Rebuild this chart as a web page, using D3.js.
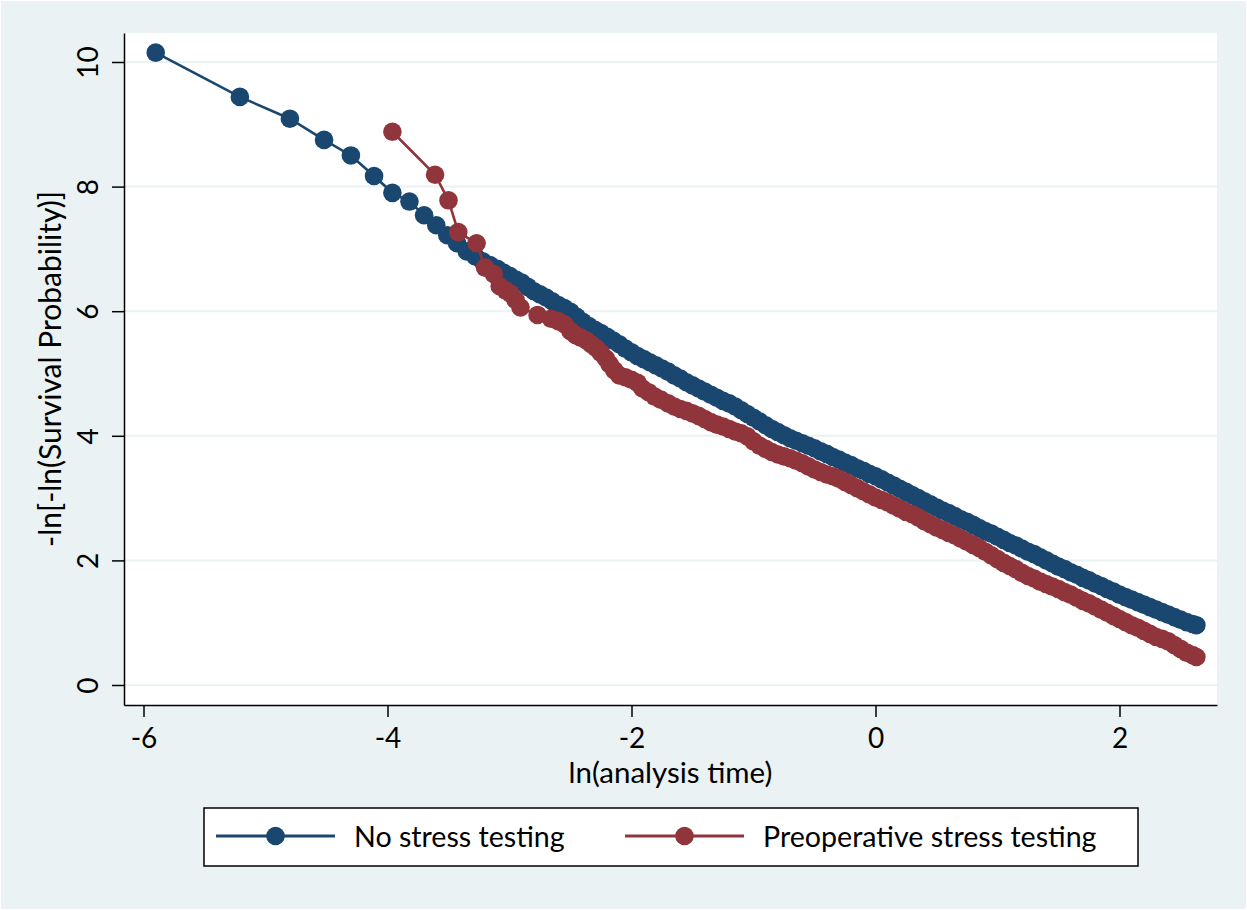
<!DOCTYPE html>
<html>
<head>
<meta charset="utf-8">
<script src="https://cdn.jsdelivr.net/npm/d3@7"></script>
<style>
  html, body { margin: 0; padding: 0; background: #eaf2f3; }
  svg { display: block; }
  text { font-family: Lato, "Open Sans", sans-serif; fill: #000; }
</style>
</head>
<body>
<svg id="chart" width="1247" height="910"></svg>
<script>
// ticks
var xTicks = [-6, -4, -2, 0, 2];
var yTicks = [0, 2, 4, 6, 8, 10];

var seriesNames = ["No stress testing", "Preoperative stress testing"];
var seriesColors = ["#1a476f", "#90353b"];

// no stress testing: ln(t), -ln[-ln(S)]
var noStressX = [-5.90, -5.21, -4.80, -4.52, -4.30, -4.11, -3.96, -3.82, -3.70, -3.60, -3.51, -3.43,
  -3.35, -3.28, -3.22, -3.16, -3.10, -3.05, -3.00, -2.95, -2.90, -2.85, -2.80, -2.75, -2.70, -2.65,
  -2.60, -2.55, -2.50, -2.45, -2.40, -2.35, -2.30, -2.25, -2.20, -2.15, -2.10, -2.05, -2.00, -1.95,
  -1.90, -1.85, -1.80, -1.75, -1.70, -1.65, -1.60, -1.55, -1.50, -1.45, -1.40, -1.35, -1.30, -1.25,
  -1.20, -1.15, -1.10, -1.05, -1.00, -0.95, -0.90, -0.85, -0.80, -0.75, -0.70, -0.65, -0.60, -0.55,
  -0.50, -0.45, -0.40, -0.35, -0.30, -0.25, -0.20, -0.15, -0.10, -0.05, 0.00, 0.05, 0.10, 0.15,
  0.20, 0.25, 0.30, 0.35, 0.40, 0.45, 0.50, 0.55, 0.60, 0.65, 0.70, 0.75, 0.80, 0.85, 0.90, 0.95,
  1.00, 1.05, 1.10, 1.15, 1.20, 1.25, 1.30, 1.35, 1.40, 1.45, 1.50, 1.55, 1.60, 1.65, 1.70, 1.75,
  1.80, 1.85, 1.90, 1.95, 2.00, 2.05, 2.10, 2.15, 2.20, 2.25, 2.30, 2.35, 2.40, 2.45, 2.50, 2.55,
  2.60, 2.63];
var noStressY = [10.15, 9.44, 9.09, 8.75, 8.50, 8.17, 7.90, 7.76, 7.54, 7.38, 7.22, 7.09,
  6.96, 6.88, 6.80, 6.74, 6.68, 6.62, 6.57, 6.51, 6.46, 6.39, 6.32, 6.27, 6.22, 6.16,
  6.10, 6.05, 5.99, 5.91, 5.83, 5.76, 5.70, 5.65, 5.59, 5.53, 5.47, 5.40, 5.34, 5.28,
  5.23, 5.18, 5.13, 5.08, 5.03, 4.97, 4.92, 4.86, 4.81, 4.76, 4.71, 4.66, 4.61, 4.56,
  4.52, 4.47, 4.41, 4.35, 4.29, 4.23, 4.17, 4.11, 4.06, 4.01, 3.96, 3.92, 3.88, 3.84,
  3.80, 3.75, 3.71, 3.66, 3.62, 3.57, 3.53, 3.48, 3.44, 3.39, 3.35, 3.30, 3.25, 3.20,
  3.15, 3.10, 3.05, 3.00, 2.95, 2.90, 2.85, 2.80, 2.76, 2.71, 2.66, 2.62, 2.57, 2.52, 2.47, 2.43,
  2.38, 2.33, 2.28, 2.24, 2.19, 2.14, 2.10, 2.05, 2.00, 1.95, 1.90, 1.86, 1.81, 1.77, 1.72, 1.68,
  1.63, 1.59, 1.54, 1.50, 1.45, 1.41, 1.37, 1.33, 1.29, 1.25, 1.21, 1.17, 1.13, 1.09, 1.05, 1.01,
  0.98, 0.96];

// preoperative stress testing
var stressX = [-3.96, -3.61, -3.50, -3.42, -3.27, -3.20, -3.13, -3.08, -3.03, -2.99, -2.95, -2.91,
  -2.77, -2.66, -2.60, -2.55, -2.50, -2.46, -2.42, -2.37, -2.33, -2.29, -2.25, -2.21, -2.18, -2.14,
  -2.10, -2.05, -2.00, -1.95, -1.91, -1.86, -1.81, -1.76, -1.70, -1.65, -1.60, -1.55, -1.50, -1.45,
  -1.40, -1.35, -1.30, -1.25, -1.20, -1.15, -1.10, -1.05, -1.00, -0.95, -0.90, -0.85, -0.80, -0.75,
  -0.70, -0.65, -0.60, -0.55, -0.50, -0.45, -0.40, -0.35, -0.30, -0.25, -0.20, -0.15, -0.10, -0.05,
  0.00, 0.05, 0.10, 0.15, 0.20, 0.25, 0.30, 0.35, 0.40, 0.45, 0.50, 0.55, 0.60, 0.65, 0.70, 0.75,
  0.80, 0.85, 0.90, 0.95, 1.00, 1.05, 1.10, 1.15, 1.20, 1.25, 1.30, 1.35, 1.40, 1.45, 1.50, 1.55,
  1.60, 1.65, 1.70, 1.75, 1.80, 1.85, 1.90, 1.95, 2.00, 2.05, 2.10, 2.15, 2.20, 2.25, 2.30, 2.35,
  2.40, 2.45, 2.50, 2.55, 2.60, 2.63];
var stressY = [8.88, 8.19, 7.78, 7.27, 7.09, 6.70, 6.60, 6.40, 6.33, 6.28, 6.18, 6.06,
  5.94, 5.88, 5.84, 5.79, 5.68, 5.62, 5.58, 5.53, 5.47, 5.41, 5.33, 5.24, 5.15, 5.05,
  4.97, 4.94, 4.90, 4.85, 4.76, 4.70, 4.63, 4.58, 4.52, 4.47, 4.43, 4.40, 4.36, 4.32,
  4.27, 4.22, 4.18, 4.15, 4.11, 4.07, 4.04, 3.99, 3.91, 3.84, 3.79, 3.74, 3.70, 3.67,
  3.64, 3.60, 3.56, 3.51, 3.46, 3.42, 3.38, 3.35, 3.31, 3.26, 3.21, 3.16, 3.11, 3.06,
  3.01, 2.97, 2.93, 2.88, 2.83, 2.78, 2.74, 2.69, 2.63, 2.58, 2.53, 2.49, 2.44, 2.40, 2.35, 2.30,
  2.25, 2.20, 2.14, 2.08, 2.02, 1.96, 1.91, 1.86, 1.80, 1.75, 1.71, 1.66, 1.62, 1.58, 1.54, 1.49,
  1.45, 1.40, 1.35, 1.31, 1.26, 1.21, 1.16, 1.11, 1.06, 1.01, 0.96, 0.92, 0.87, 0.82, 0.77, 0.74,
  0.70, 0.64, 0.58, 0.52, 0.48, 0.45];

var W = 1247, H = 910;
var plot = { left: 124, right: 1217, top: 33, bottom: 705 };

var svg = d3.select("#chart");

svg.append("rect")
    .attr("x", 0.5).attr("y", 0.5)
    .attr("width", W - 1).attr("height", H - 1)
    .attr("fill", "#eaf2f3")
    .attr("stroke", "#ffffff")
    .attr("stroke-width", 1);

// 122 px per x unit, 62.3 px per y unit
var x = d3.scaleLinear()
    .domain([(plot.left - 875.5) / 122, (plot.right - 875.5) / 122])
    .range([plot.left, plot.right]);
var y = d3.scaleLinear()
    .domain([(685 - plot.bottom) / 62.3, (685 - plot.top) / 62.3])
    .range([plot.bottom, plot.top]);

svg.append("rect")
    .attr("x", plot.left).attr("y", plot.top)
    .attr("width", plot.right - plot.left)
    .attr("height", plot.bottom - plot.top)
    .attr("fill", "#ffffff");

// grid
svg.append("g").selectAll("line")
    .data(yTicks)
    .join("line")
    .attr("x1", plot.left).attr("x2", plot.right)
    .attr("y1", function(d) { return y(d); })
    .attr("y2", function(d) { return y(d); })
    .attr("stroke", "#eaf2f3")
    .attr("stroke-width", 2);

// series
var series = [
    { name: seriesNames[0], color: seriesColors[0], xs: noStressX, ys: noStressY },
    { name: seriesNames[1], color: seriesColors[1], xs: stressX, ys: stressY }
];

var line = d3.line()
    .x(function(d) { return x(d[0]); })
    .y(function(d) { return y(d[1]); });

series.forEach(function(s) {
    var pts = d3.zip(s.xs, s.ys);
    var g = svg.append("g");
    g.append("path")
        .datum(pts)
        .attr("d", line)
        .attr("fill", "none")
        .attr("stroke", s.color)
        .attr("stroke-width", 2.6);
    g.selectAll("circle")
        .data(pts)
        .join("circle")
        .attr("cx", function(d) { return x(d[0]); })
        .attr("cy", function(d) { return y(d[1]); })
        .attr("r", 9.3)
        .attr("fill", s.color);
});

// axes
var xAxis = svg.append("g")
    .attr("transform", "translate(0," + plot.bottom + ")")
    .call(d3.axisBottom(x).tickValues(xTicks).tickSize(12).tickSizeOuter(0)
        .tickFormat(function(d) { return d < 0 ? "-" + Math.abs(d) : d; }));
xAxis.selectAll("text")
    .attr("y", 43).attr("dy", 0)
    .style("font-size", "28px");

var yAxis = svg.append("g")
    .attr("transform", "translate(" + plot.left + ",0)")
    .call(d3.axisLeft(y).tickValues(yTicks).tickSize(12).tickSizeOuter(0));
yAxis.selectAll("text")
    .attr("transform", "rotate(-90)")
    .attr("x", 0).attr("y", -26).attr("dy", 0)
    .attr("text-anchor", "middle")
    .style("font-size", "28px");

svg.selectAll(".domain, .tick line")
    .attr("stroke", "#000")
    .attr("stroke-width", 1.5);

// axis titles
svg.append("text")
    .attr("x", (plot.left + plot.right) / 2)
    .attr("y", 783)
    .attr("text-anchor", "middle")
    .style("font-size", "29.5px")
    .text("ln(analysis time)");

svg.append("text")
    .attr("transform", "translate(61," + (plot.top + plot.bottom) / 2 + ") rotate(-90)")
    .attr("text-anchor", "middle")
    .style("font-size", "30px")
    .text("-ln[-ln(Survival Probability)]");

// legend
var legend = svg.append("g");
legend.append("rect")
    .attr("x", 204).attr("y", 808)
    .attr("width", 934).attr("height", 58)
    .attr("fill", "#ffffff")
    .attr("stroke", "#000")
    .attr("stroke-width", 1.5);

var legendItems = [
    { x1: 216, x2: 335, tx: 354 },
    { x1: 625, x2: 744, tx: 763 }
];
legendItems.forEach(function(it, i) {
    legend.append("line")
        .attr("x1", it.x1).attr("x2", it.x2)
        .attr("y1", 836).attr("y2", 836)
        .attr("stroke", seriesColors[i])
        .attr("stroke-width", 3);
    legend.append("circle")
        .attr("cx", (it.x1 + it.x2) / 2).attr("cy", 836)
        .attr("r", 9.3)
        .attr("fill", seriesColors[i]);
    legend.append("text")
        .attr("x", it.tx).attr("y", 847)
        .style("font-size", "28.6px")
        .text(seriesNames[i]);
});
</script>
</body>
</html>
